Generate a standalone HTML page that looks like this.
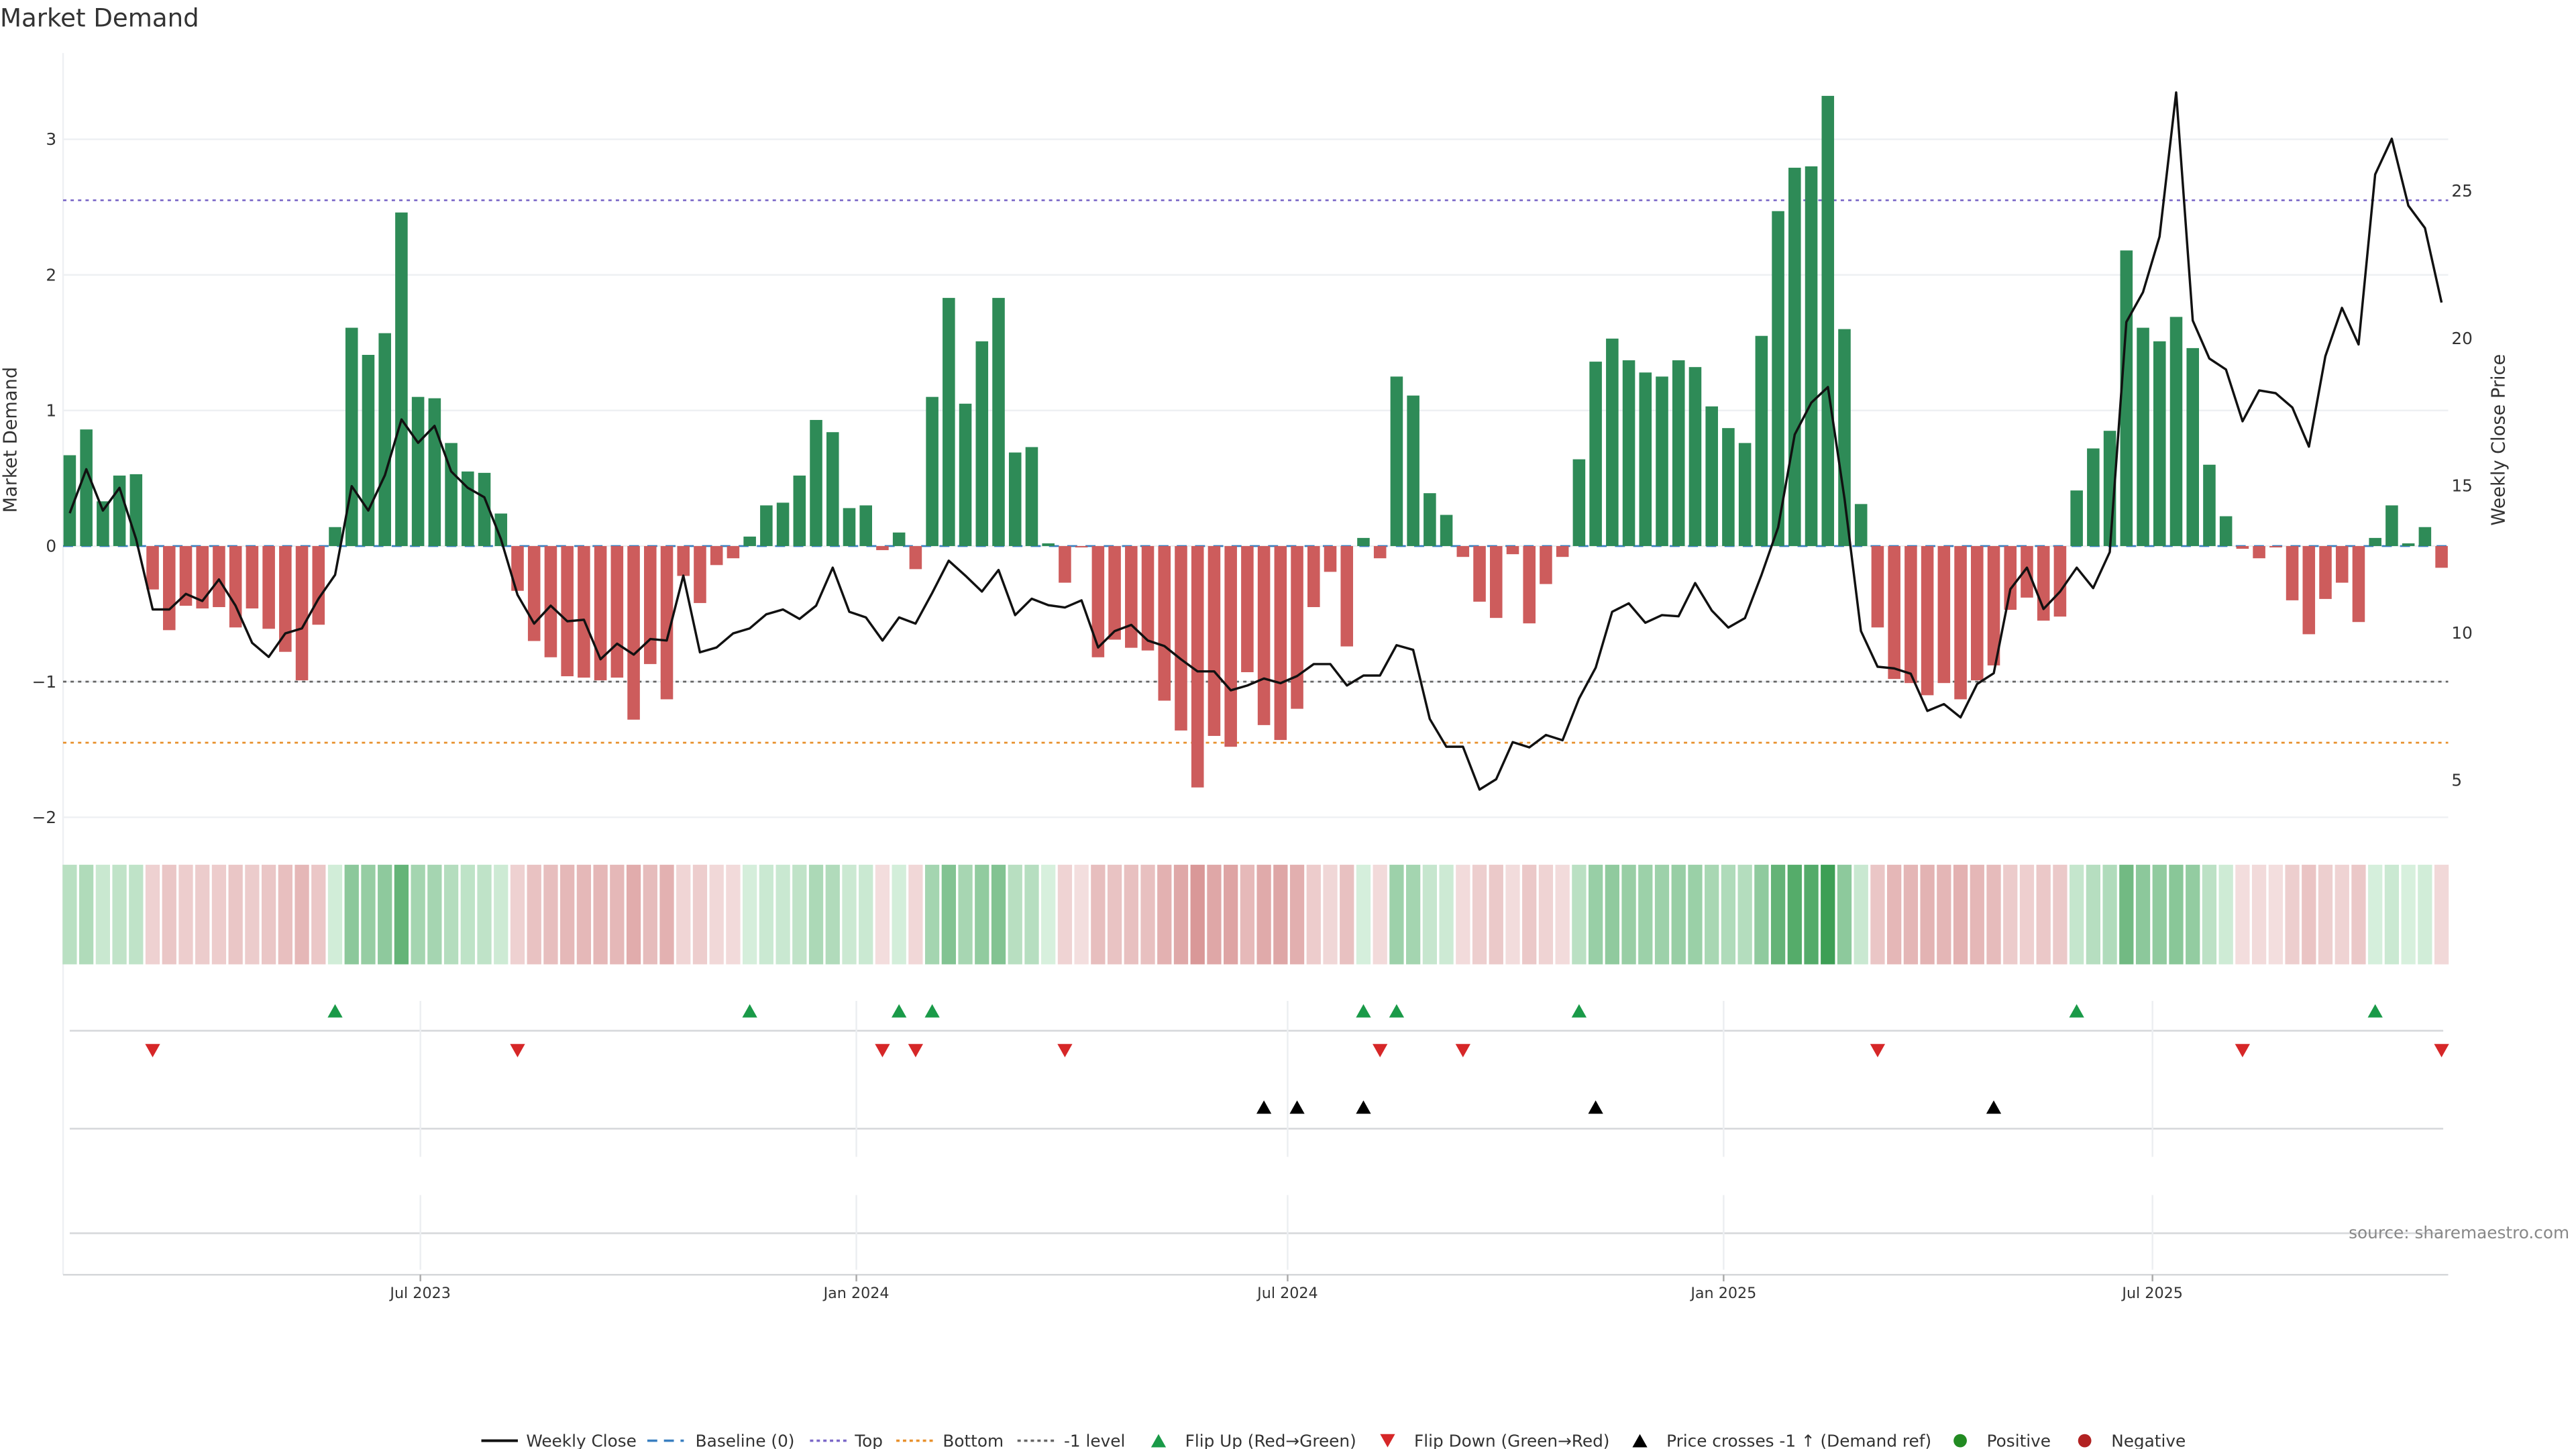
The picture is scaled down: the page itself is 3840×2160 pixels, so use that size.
<!DOCTYPE html>
<html><head><meta charset="utf-8"><title>Market Demand</title>
<style>html,body{margin:0;padding:0;background:#fff;}svg{display:block;font-family:"DejaVu Sans","Liberation Sans",sans-serif;}</style>
</head><body>
<svg id="chart" width="3840" height="2160" viewBox="0 0 1552 873" preserveAspectRatio="none" xmlns="http://www.w3.org/2000/svg">
<text x="0" y="16" font-size="15" fill="#333">Market Demand</text>
<g id="grid"></g>
<g id="levels"></g>
<g id="bars"></g>
<g id="line"></g>
<g id="strip"></g>
<g id="markers"></g>
<g id="axes"></g>
<text x="1548" y="746" font-size="10" fill="#888" text-anchor="end">source: sharemaestro.com</text>
<g id="legend"></g>
</svg>
<script>
const demand=[0.67,0.86,0.33,0.52,0.53,-0.32,-0.62,-0.44,-0.46,-0.45,-0.60,-0.46,-0.61,-0.78,-0.99,-0.58,0.14,1.61,1.41,1.57,2.46,1.10,1.09,0.76,0.55,0.54,0.24,-0.33,-0.70,-0.82,-0.96,-0.97,-0.99,-0.97,-1.28,-0.87,-1.13,
-0.22,-0.42,-0.14,-0.09,0.07,0.30,0.32,0.52,0.93,0.84,0.28,0.30,-0.03,0.10,-0.17,1.10,1.83,1.05,1.51,1.83,0.69,0.73,0.02,-0.27,-0.01,-0.82,-0.69,-0.75,-0.77,-1.14,-1.36,-1.78,-1.40,-1.48,-0.93,-1.32,-1.43,
-1.20,-0.45,-0.19,-0.74,0.06,-0.09,1.25,1.11,0.39,0.23,-0.08,-0.41,-0.53,-0.06,-0.57,-0.28,-0.08,0.64,1.36,1.53,1.37,1.28,1.25,1.37,1.32,1.03,0.87,0.76,1.55,2.47,2.79,2.80,3.32,1.60,0.31,-0.60,-0.98,
-1.01,-1.10,-1.01,-1.13,-0.99,-0.88,-0.47,-0.38,-0.55,-0.52,0.41,0.72,0.85,2.18,1.61,1.51,1.69,1.46,0.60,0.22,-0.02,-0.09,-0.01,-0.40,-0.65,-0.39,-0.27,-0.56,0.06,0.30,0.02,0.14,-0.16];
const price=[14.06,15.55,14.15,14.92,13.18,10.79,10.79,11.32,11.08,11.81,10.92,9.66,9.18,9.98,10.15,11.16,11.97,14.98,14.15,15.35,17.24,16.45,17.02,15.48,14.92,14.6,13.18,11.29,10.31,10.92,10.39,10.44,9.1,9.63,9.26,9.79,9.74,
11.94,9.34,9.5,9.98,10.15,10.63,10.79,10.47,10.92,12.21,10.71,10.52,9.74,10.52,10.31,11.35,12.45,11.94,11.40,12.13,10.6,11.16,10.94,10.86,11.1,9.5,10.06,10.27,9.74,9.55,9.1,8.69,8.69,8.05,8.21,8.45,8.29,
8.53,8.94,8.94,8.21,8.55,8.55,9.58,9.42,7.08,6.13,6.13,4.68,5.03,6.29,6.11,6.53,6.35,7.77,8.82,10.71,11.0,10.34,10.6,10.56,11.69,10.76,10.18,10.5,11.97,13.58,16.73,17.81,18.34,14.55,10.06,8.85,8.79,
8.61,7.35,7.58,7.13,8.26,8.63,11.48,12.21,10.81,11.4,12.21,11.52,12.74,20.55,21.56,23.45,28.34,20.6,19.31,18.94,17.18,18.23,18.13,17.65,16.32,19.39,21.03,19.79,25.56,26.77,24.5,23.74,21.21];
const flipUp=[16,41,50,52,78,80,91,121,139];
const flipDown=[5,27,49,51,60,79,84,109,131,143];
const priceCross=[72,74,78,92,116];
const leftTicks=[3,2,1,0,-1,-2];
const rightTicks=[25,20,15,10,5];
const dateTicks=["2023-07-01","2024-01-01","2024-07-01","2025-01-01","2025-07-01"];
const dateLabels=["Jul 2023","Jan 2024","Jul 2024","Jan 2025","Jul 2025"];
const levelTop=2.55, levelMinus1=-1, levelBottom=-1.45;
const startDate=new Date("2023-02-03");

const NS="http://www.w3.org/2000/svg";
const X0=42, STEP=(1471-42)/143, XL=38, XR=1475;
const xi=i=>X0+i*STEP;
const yL=v=>329-v*81.7;
const yR=p=>470-(p-5)*17.75;
const xd=s=>X0+(new Date(s)-startDate)/(7*864e5)*STEP;
function mk(tag,attrs,parent,txt){const e=document.createElementNS(NS,tag);for(const k in attrs)e.setAttribute(k,attrs[k]);if(txt!==undefined)e.textContent=txt;parent.appendChild(e);return e;}
const G=id=>document.getElementById(id);

// grid + left axis
leftTicks.forEach(v=>{
  const l=mk('line',{x1:XL,x2:XR,y1:yL(v),y2:yL(v),stroke:'#eef0f3','stroke-width':1},G('grid'));
  
  
  const t=mk('text',{x:34,y:yL(v)+3.5,'font-size':10,fill:'#333','text-anchor':'end'},G('axes'),v<0?'\u2212'+Math.abs(v):String(v));
  
  
});
const spine=mk('line',{x1:XL,x2:XL,y1:32,y2:768,stroke:'#eef0f3','stroke-width':1},G('grid'));


rightTicks.forEach(p=>{
  const t=mk('text',{x:1477,y:yR(p)+3.5,'font-size':10,fill:'#333'},G('axes'),String(p));
  
  
});
let ya=mk('text',{x:10,y:265,'font-size':11,fill:'#333','text-anchor':'middle',transform:'rotate(-90 10 265)'},G('axes'),'Market Demand');


let yb=mk('text',{x:1509,y:265,'font-size':11,fill:'#333','text-anchor':'middle',transform:'rotate(-90 1509 265)'},G('axes'),'Weekly Close Price');



// levels
[[levelTop,'#7b68c8','2,2.5','top-level-line'],[levelMinus1,'#666','2,2.5','minus1-level-line'],[levelBottom,'#e8912e','2,2.5','bottom-level-line']].forEach(a=>{
  const l=mk('line',{x1:XL,x2:XR,y1:yL(a[0]),y2:yL(a[0]),stroke:a[1],'stroke-width':1.1,'stroke-dasharray':a[2]},G('levels'));
  
  
});

// bars
demand.forEach((v,i)=>{
  const y0=yL(0),y1=yL(v);
  const r=mk('rect',{x:xi(i)-3.75,y:Math.min(y0,y1),width:7.5,height:Math.max(0.3,Math.abs(y1-y0)),fill:v>=0?'#2e8b57':'#cd5c5c'},G('bars'));
  
  
});
const base=mk('line',{x1:XL,x2:XR,y1:yL(0),y2:yL(0),stroke:'#3a7fc0','stroke-width':1.1,'stroke-dasharray':'6,5'},G('levels'));



// price line
const pts=price.map((p,i)=>xi(i).toFixed(1)+','+yR(p).toFixed(1)).join(' ');
const pl=mk('polyline',{points:pts,fill:'none',stroke:'#111','stroke-width':1.4,'stroke-linejoin':'round'},G('line'));



// heat strip
function mix(a,b,t){t=Math.max(0,Math.min(1,t));const pa=[1,3,5].map(k=>parseInt(a.substr(k,2),16)),pb=[1,3,5].map(k=>parseInt(b.substr(k,2),16));return 'rgb('+pa.map((c,j)=>Math.round(c+(pb[j]-c)*t)).join(',')+')';}
demand.forEach((v,i)=>{
  const c=v>=0?mix('#d8f0de','#3d9f55',v/3.3):mix('#f3dede','#d99797',-v/1.8);
  const r=mk('rect',{x:xi(i)-4.3,y:521,width:8.6,height:60,fill:c},G('strip'));
  
  
});

// lower panels
[621,680,743,768].forEach(y=>{
  const l=mk('line',{x1:y==768?XL:42,x2:y==768?XR:1472,y1:y,y2:y,stroke:'#d5d7da','stroke-width':1},G('grid'));
  
  
});
dateTicks.forEach((d,k)=>{
  const x=xd(d);
  [[603,697],[720,765]].forEach(s=>{
    const l=mk('line',{x1:x,x2:x,y1:s[0],y2:s[1],stroke:'#eceef1','stroke-width':1},G('grid'));
    
    
  });
  const tk=mk('line',{x1:x,x2:x,y1:768,y2:772,stroke:'#aaa','stroke-width':1},G('axes'));
  
  
  const t=mk('text',{x:x,y:782,'font-size':9,fill:'#333','text-anchor':'middle'},G('axes'),dateLabels[k]);
  
  
});
function tri(x,y,up,color,name){
  const d=up?`M${x-4.5},${y+4} L${x},${y-4} L${x+4.5},${y+4} Z`:`M${x-4.5},${y-4} L${x},${y+4} L${x+4.5},${y-4} Z`;
  const p=mk('path',{d:d,fill:color},G('markers'));
  
  
}
flipUp.forEach(i=>tri(xi(i),609,true,'#1a9a48','flip-up-marker'));
flipDown.forEach(i=>tri(xi(i),633,false,'#d62728','flip-down-marker'));
priceCross.forEach(i=>tri(xi(i),667,true,'#000','price-cross-marker'));

// legend
const L=G('legend'), LY=868;
function ltext(x,s){const t=mk('text',{x:x,y:LY+3.5,'font-size':10,fill:'#333'},L,s);}
function lline(x,color,dash,w,name){const l=mk('line',{x1:x,x2:x+22,y1:LY,y2:LY,stroke:color,'stroke-width':w,'stroke-dasharray':dash},L);}
lline(290,'#111','none',1.6,'legend-weekly-close');ltext(317,'Weekly Close');
lline(390,'#3a7fc0','6,4',1.4,'legend-baseline');ltext(419,'Baseline (0)');
lline(488,'#7b68c8','2,2',1.4,'legend-top');ltext(515,'Top');
lline(540,'#e8912e','2,2',1.4,'legend-bottom');ltext(568,'Bottom');
lline(613,'#666','2,2',1.4,'legend-minus1');ltext(641,'-1 level');
let lm=mk('path',{d:`M${698-4.5},${LY+4} L698,${LY-4} L${698+4.5},${LY+4} Z`,fill:'#1a9a48'},L);


ltext(714,'Flip Up (Red\u2192Green)');
lm=mk('path',{d:`M${836-4.5},${LY-4} L836,${LY+4} L${836+4.5},${LY-4} Z`,fill:'#d62728'},L);


ltext(852,'Flip Down (Green\u2192Red)');
lm=mk('path',{d:`M${988-4.5},${LY+4} L988,${LY-4} L${988+4.5},${LY+4} Z`,fill:'#000'},L);


ltext(1004,'Price crosses -1 \u2191 (Demand ref)');
lm=mk('circle',{cx:1181,cy:LY,r:4,fill:'#228b22'},L);


ltext(1197,'Positive');
lm=mk('circle',{cx:1256,cy:LY,r:4,fill:'#b22222'},L);


ltext(1272,'Negative');
</script>
</body></html>
